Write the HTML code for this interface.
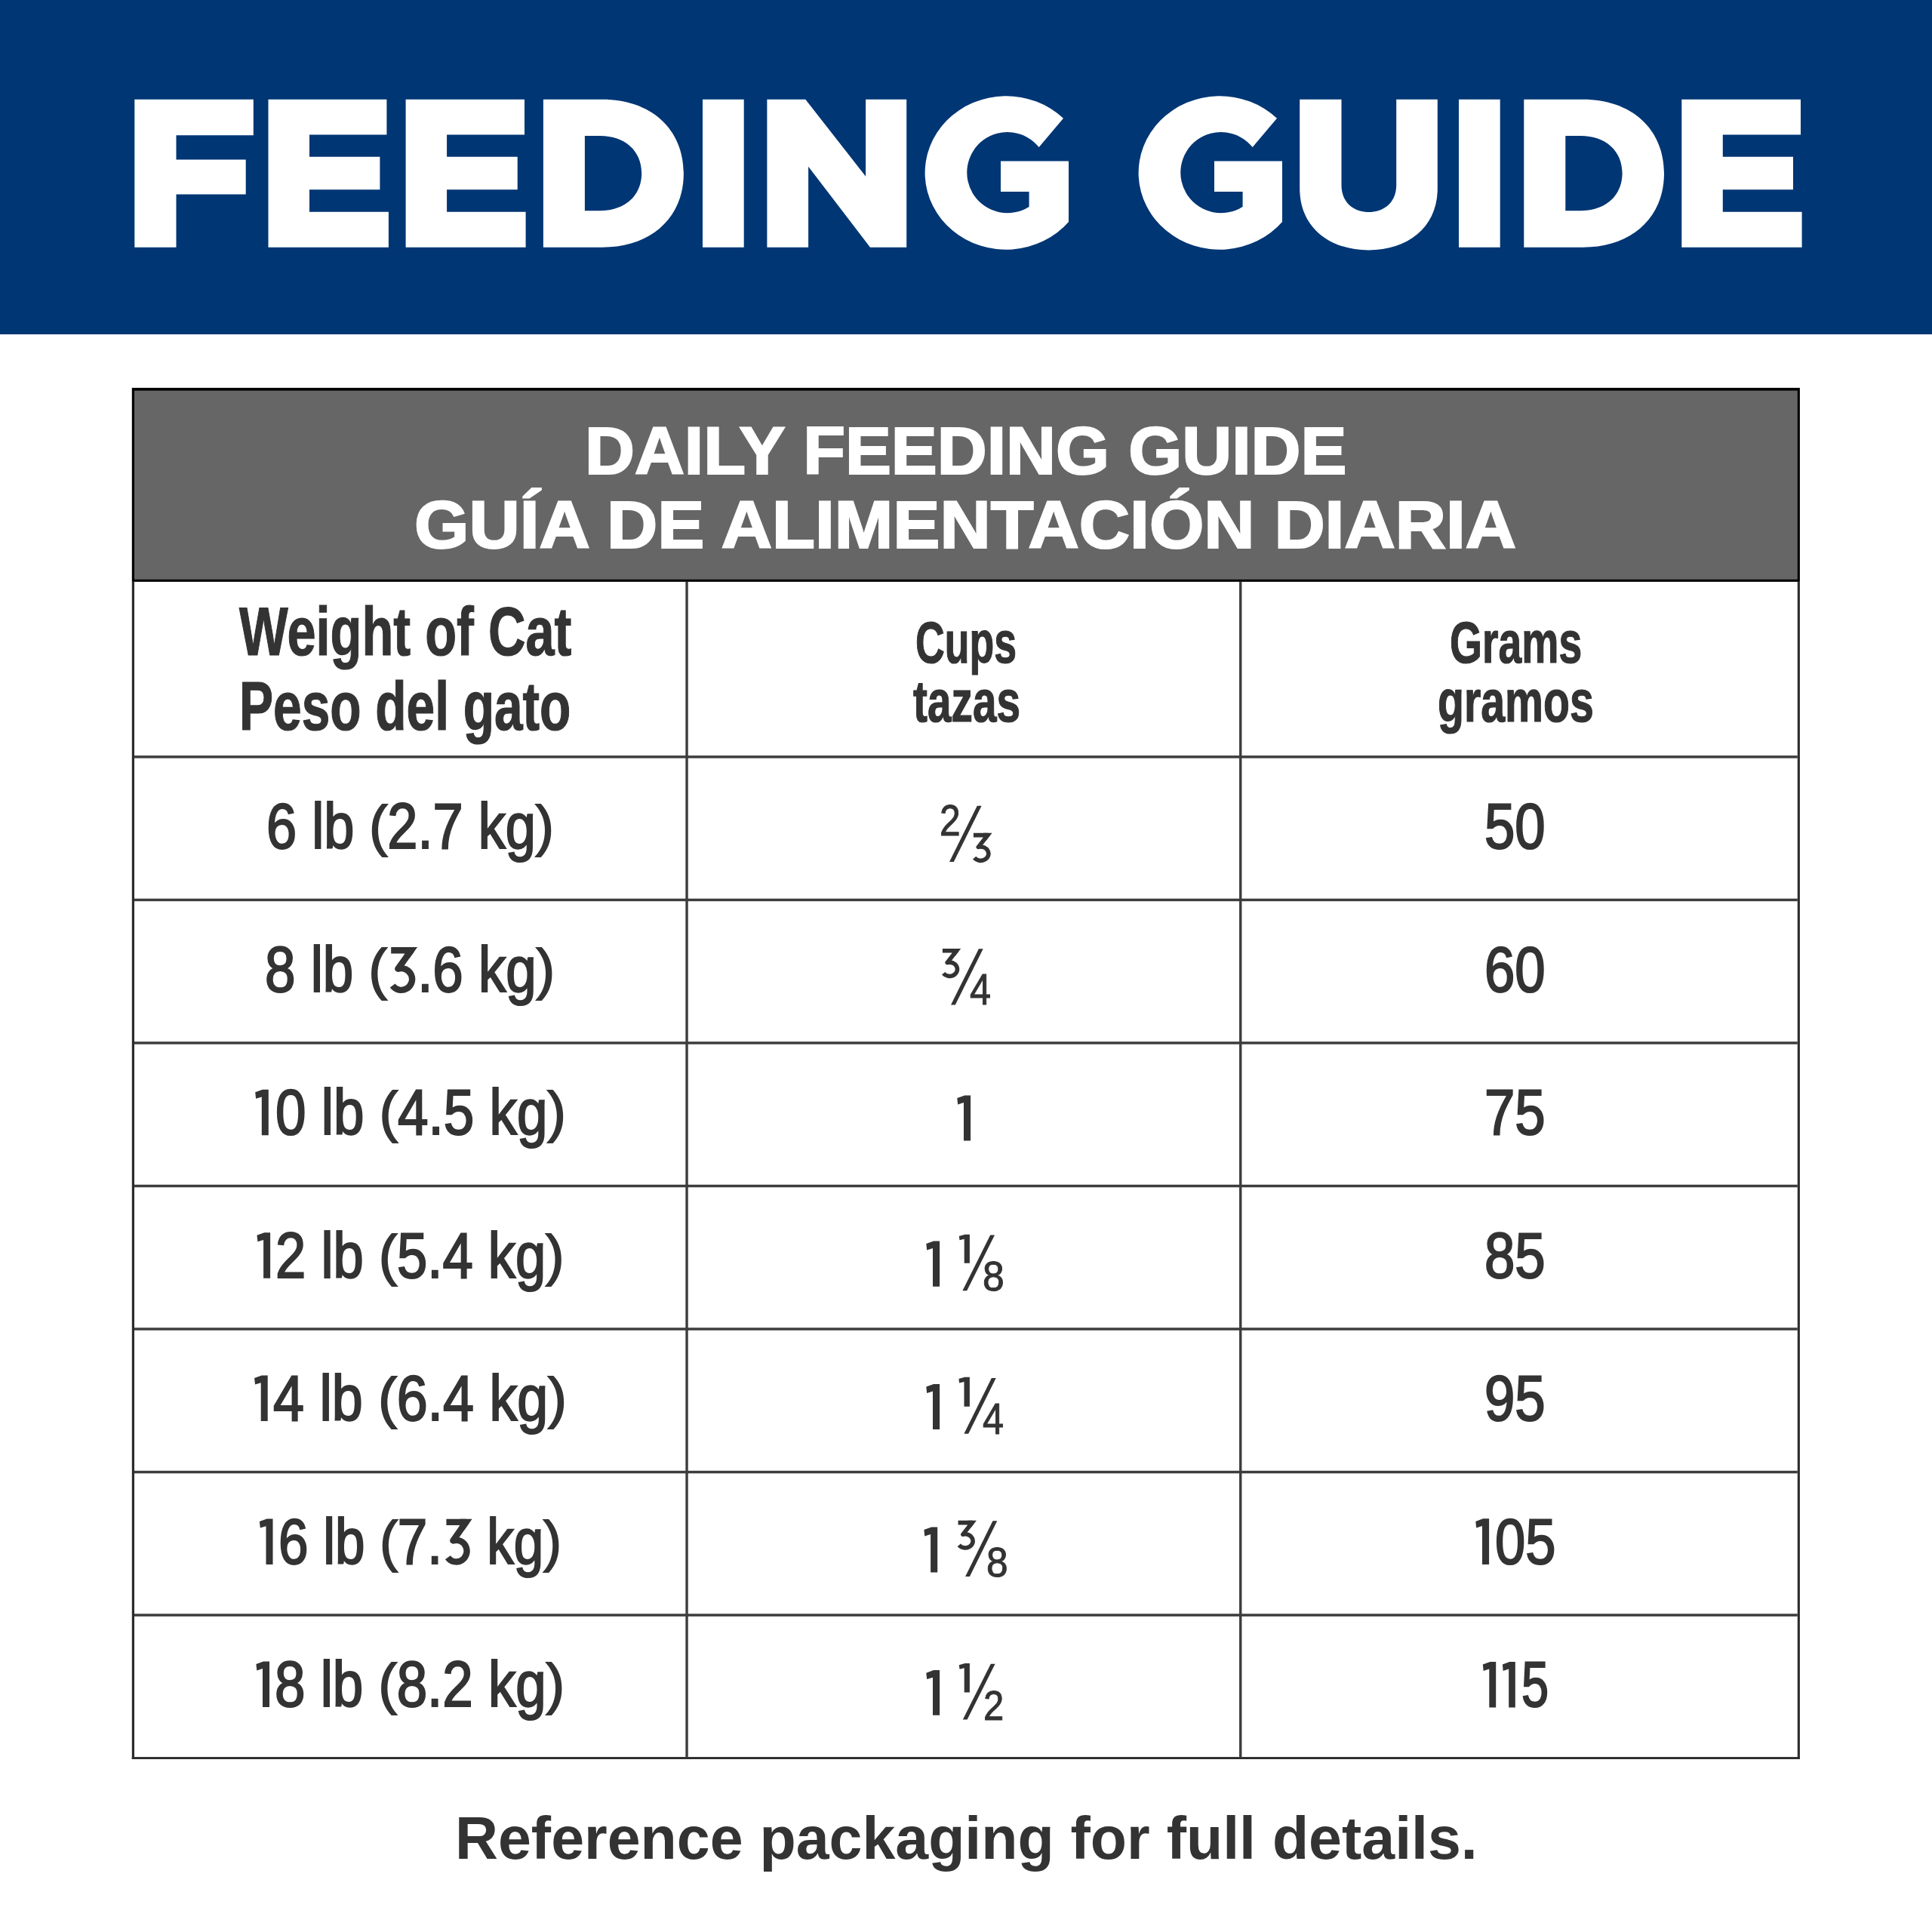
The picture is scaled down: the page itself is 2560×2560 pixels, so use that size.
<!DOCTYPE html>
<html><head><meta charset="utf-8"><title>Feeding Guide</title>
<style>
html,body{margin:0;padding:0;background:#ffffff;}
body{width:2560px;height:2560px;position:relative;overflow:hidden;font-family:'Liberation Sans', sans-serif;}
.p{display:inline-block;transform:scaleY(0.888);transform-origin:50% 0.5em;}
.h3{color:transparent;-webkit-text-stroke-color:transparent;}
</style></head>
<body>
<div style="position:absolute;left:0;top:0;width:2560px;height:443px;background:#003674"></div>
<svg style="position:absolute;left:0;top:0" width="2560" height="443" viewBox="0 0 2560 443"><g fill="#ffffff" fill-rule="evenodd">
<path d="M178.3 131.7 L335.8 131.7 L335.8 179.2 L233.5 179.2 L233.5 211.5 L325.7 211.5 L325.7 257.5 L233.5 257.5 L233.5 327.7 L178.3 327.7 Z"/>
<path d="M355.5 131.7 L512.4 131.7 L512.4 178.4 L410.0 178.4 L410.0 207.7 L503.4 207.7 L503.4 251.2 L410.0 251.2 L410.0 280.8 L514.9 280.8 L514.9 327.7 L355.5 327.7 Z"/>
<path d="M537.6 131.7 L695.0 131.7 L695.0 178.4 L592.1 178.4 L592.1 207.7 L685.7 207.7 L685.7 251.2 L592.1 251.2 L592.1 280.8 L696.6 280.8 L696.6 327.7 L537.6 327.7 Z"/>
<path d="M719.9 131.7 H797.9 C862.7 131.7 905.9 170.9 905.9 229.7 C905.9 288.5 862.7 327.7 797.9 327.7 H719.9 Z M774.9 179.9 H794.9 C828.1 179.9 850.2 199.8 850.2 229.6 C850.2 259.3 828.1 279.2 794.9 279.2 H774.9 Z"/>
<path d="M931.0 131.7 L985.7 131.7 L985.7 327.7 L931.0 327.7 Z"/>
<path d="M1016.4 131.7 L1067.3 131.7 L1147.1 233.8 L1147.1 131.7 L1201.2 131.7 L1201.2 327.7 L1153.0 327.7 L1071.1 220.7 L1071.1 327.7 L1016.4 327.7 Z"/>
<path d="M1409.0 156.8 A107.6 101.75 0 1 0 1416.0 294 L1416.0 213.4 L1326.0 213.4 L1326.0 254 L1363.6 254 L1363.6 273.9 A53.6 53.6 0 1 1 1376.7 195.1 Z"/>
<path d="M1692.0 156.8 A107.6 101.75 0 1 0 1699.0 294 L1699.0 213.4 L1609.0 213.4 L1609.0 254 L1646.6 254 L1646.6 273.9 A53.6 53.6 0 1 1 1659.7 195.1 Z"/>
<path d="M1722.2 131.7 H1777.5 V245 C1777.5 268 1793.2 281 1813.8 281 C1834.2 281 1850.2 268 1850.2 245 V131.7 H1904.8 V250 C1904.8 300 1866.8 331.4 1813.5 331.4 C1760.2 331.4 1722.2 300 1722.2 250 Z"/>
<path d="M1933.0 131.7 L1987.7 131.7 L1987.7 327.7 L1933.0 327.7 Z"/>
<path d="M2019.3 131.7 H2097.3 C2161.9 131.7 2205.0 170.9 2205.0 229.7 C2205.0 288.5 2161.9 327.7 2097.3 327.7 H2019.3 Z M2074.3 179.9 H2094.3 C2127.5 179.9 2149.6 199.8 2149.6 229.6 C2149.6 259.3 2127.5 279.2 2094.3 279.2 H2074.3 Z"/>
<path d="M2228.3 131.7 L2386.0 131.7 L2386.0 178.4 L2282.8 178.4 L2282.8 207.7 L2376.0 207.7 L2376.0 251.2 L2282.8 251.2 L2282.8 280.8 L2387.6 280.8 L2387.6 327.7 L2228.3 327.7 Z"/>
</g></svg>
<svg style="position:absolute;left:0;top:0" width="2560" height="2560" viewBox="0 0 2560 2560"><rect x="174.80" y="513.90" width="2210.10" height="257.00" fill="#000000"/><rect x="178.00" y="517.60" width="2203.80" height="250.20" fill="#666666"/><rect x="174.80" y="770.90" width="3.20" height="1560.10" fill="#2b2b2b"/><rect x="2381.80" y="770.90" width="3.10" height="1560.10" fill="#2b2b2b"/><rect x="174.80" y="2328.10" width="2210.10" height="2.90" fill="#2b2b2b"/><rect x="178.00" y="1001.15" width="2203.80" height="3.50" fill="#3d3d3d"/><rect x="178.00" y="1190.68" width="2203.80" height="3.50" fill="#3d3d3d"/><rect x="178.00" y="1380.21" width="2203.80" height="3.50" fill="#3d3d3d"/><rect x="178.00" y="1569.74" width="2203.80" height="3.50" fill="#3d3d3d"/><rect x="178.00" y="1759.27" width="2203.80" height="3.50" fill="#3d3d3d"/><rect x="178.00" y="1948.80" width="2203.80" height="3.50" fill="#3d3d3d"/><rect x="178.00" y="2138.33" width="2203.80" height="3.50" fill="#3d3d3d"/><rect x="908.35" y="770.90" width="3.40" height="1557.20" fill="#3d3d3d"/><rect x="1642.05" y="770.90" width="3.40" height="1557.20" fill="#3d3d3d"/></svg>
<div style="position:absolute;left:774.53px;top:544.90px;font-family:'Liberation Sans', sans-serif;font-weight:700;font-size:88.37209302325581px;line-height:1.2;white-space:nowrap;color:#ffffff;-webkit-text-stroke:2.2px #ffffff;transform-origin:0 0;transform:scaleX(1.0331);">DAILY FEEDING GUIDE</div>
<div style="position:absolute;left:549.14px;top:643.40px;font-family:'Liberation Sans', sans-serif;font-weight:700;font-size:88.37209302325581px;line-height:1.2;white-space:nowrap;color:#ffffff;-webkit-text-stroke:2.2px #ffffff;transform-origin:0 0;transform:scaleX(1.0535);">GUÍA DE ALIMENTACIÓN DIARIA</div>
<div style="position:absolute;left:316.86px;top:782.60px;font-family:'Liberation Sans', sans-serif;font-weight:700;font-size:90.40697674418605px;line-height:1.2;white-space:nowrap;color:#333333;-webkit-text-stroke:1.2px #333333;transform-origin:0 0;transform:scaleX(0.7582);">Weight of Cat</div>
<div style="position:absolute;left:317.36px;top:882.00px;font-family:'Liberation Sans', sans-serif;font-weight:700;font-size:90.40697674418605px;line-height:1.2;white-space:nowrap;color:#333333;-webkit-text-stroke:1.2px #333333;transform-origin:0 0;transform:scaleX(0.7476);">Peso del gato</div>
<div style="position:absolute;left:1213.12px;top:805.10px;font-family:'Liberation Sans', sans-serif;font-weight:700;font-size:77.32558139534883px;line-height:1.2;white-space:nowrap;color:#333333;-webkit-text-stroke:1.2px #333333;transform-origin:0 0;transform:scaleX(0.6936);">Cups</div>
<div style="position:absolute;left:1209.50px;top:882.70px;font-family:'Liberation Sans', sans-serif;font-weight:700;font-size:77.32558139534883px;line-height:1.2;white-space:nowrap;color:#333333;-webkit-text-stroke:1.2px #333333;transform-origin:0 0;transform:scaleX(0.7346);">tazas</div>
<div style="position:absolute;left:1920.75px;top:804.90px;font-family:'Liberation Sans', sans-serif;font-weight:700;font-size:77.18023255813954px;line-height:1.2;white-space:nowrap;color:#333333;-webkit-text-stroke:1.2px #333333;transform-origin:0 0;transform:scaleX(0.7172);">Grams</div>
<div style="position:absolute;left:1905.17px;top:882.70px;font-family:'Liberation Sans', sans-serif;font-weight:700;font-size:77.18023255813954px;line-height:1.2;white-space:nowrap;color:#333333;-webkit-text-stroke:1.2px #333333;transform-origin:0 0;transform:scaleX(0.7418);">gramos</div>
<div style="position:absolute;left:353.04px;top:1045.10px;font-family:'Liberation Sans', sans-serif;font-weight:400;font-size:84.45px;line-height:1.2;white-space:nowrap;color:#333333;-webkit-text-stroke:2.2px #333333;transform-origin:0 0;transform:scaleX(0.8542);">6 lb <span class="p">(</span>2.7 kg<span class="p">)</span></div>
<div style="position:absolute;left:351.32px;top:1235.30px;font-family:'Liberation Sans', sans-serif;font-weight:400;font-size:84.45px;line-height:1.2;white-space:nowrap;color:#333333;-webkit-text-stroke:2.2px #333333;transform-origin:0 0;transform:scaleX(0.8613);">8 lb <span class="p">(</span><span class="h3">3</span>.6 kg<span class="p">)</span></div>
<div style="position:absolute;left:364.97px;top:1424.20px;font-family:'Liberation Sans', sans-serif;font-weight:400;font-size:84.45px;line-height:1.2;white-space:nowrap;color:#333333;-webkit-text-stroke:2.2px #333333;transform-origin:0 0;transform:scaleX(0.8627);">0 lb <span class="p">(</span>4.5 kg<span class="p">)</span></div>
<div style="position:absolute;left:364.53px;top:1613.70px;font-family:'Liberation Sans', sans-serif;font-weight:400;font-size:84.45px;line-height:1.2;white-space:nowrap;color:#333333;-webkit-text-stroke:2.2px #333333;transform-origin:0 0;transform:scaleX(0.8576);">2 lb <span class="p">(</span>5.4 kg<span class="p">)</span></div>
<div style="position:absolute;left:362.43px;top:1803.00px;font-family:'Liberation Sans', sans-serif;font-weight:400;font-size:84.45px;line-height:1.2;white-space:nowrap;color:#333333;-webkit-text-stroke:2.2px #333333;transform-origin:0 0;transform:scaleX(0.8717);">4 lb <span class="p">(</span>6.4 kg<span class="p">)</span></div>
<div style="position:absolute;left:369.38px;top:1993.00px;font-family:'Liberation Sans', sans-serif;font-weight:400;font-size:84.45px;line-height:1.2;white-space:nowrap;color:#333333;-webkit-text-stroke:2.2px #333333;transform-origin:0 0;transform:scaleX(0.8405);">6 lb <span class="p">(</span>7.<span class="h3">3</span> kg<span class="p">)</span></div>
<div style="position:absolute;left:364.12px;top:2181.90px;font-family:'Liberation Sans', sans-serif;font-weight:400;font-size:84.45px;line-height:1.2;white-space:nowrap;color:#333333;-webkit-text-stroke:2.2px #333333;transform-origin:0 0;transform:scaleX(0.8610);">8 lb <span class="p">(</span>8.2 kg<span class="p">)</span></div>
<div style="position:absolute;left:1966.93px;top:1045.20px;font-family:'Liberation Sans', sans-serif;font-weight:400;font-size:84.45px;line-height:1.2;white-space:nowrap;color:#333333;-webkit-text-stroke:2.2px #333333;transform-origin:0 0;transform:scaleX(0.8589);">50</div>
<div style="position:absolute;left:1966.50px;top:1234.73px;font-family:'Liberation Sans', sans-serif;font-weight:400;font-size:84.45px;line-height:1.2;white-space:nowrap;color:#333333;-webkit-text-stroke:2.2px #333333;transform-origin:0 0;transform:scaleX(0.8589);">60</div>
<div style="position:absolute;left:1966.93px;top:1424.26px;font-family:'Liberation Sans', sans-serif;font-weight:400;font-size:84.45px;line-height:1.2;white-space:nowrap;color:#333333;-webkit-text-stroke:2.2px #333333;transform-origin:0 0;transform:scaleX(0.8589);">75</div>
<div style="position:absolute;left:1966.93px;top:1613.79px;font-family:'Liberation Sans', sans-serif;font-weight:400;font-size:84.45px;line-height:1.2;white-space:nowrap;color:#333333;-webkit-text-stroke:2.2px #333333;transform-origin:0 0;transform:scaleX(0.8589);">85</div>
<div style="position:absolute;left:1966.93px;top:1803.32px;font-family:'Liberation Sans', sans-serif;font-weight:400;font-size:84.45px;line-height:1.2;white-space:nowrap;color:#333333;-webkit-text-stroke:2.2px #333333;transform-origin:0 0;transform:scaleX(0.8589);">95</div>
<div style="position:absolute;left:1981.29px;top:1992.85px;font-family:'Liberation Sans', sans-serif;font-weight:400;font-size:84.45px;line-height:1.2;white-space:nowrap;color:#333333;-webkit-text-stroke:2.2px #333333;transform-origin:0 0;transform:scaleX(0.8562);">05</div>
<div style="position:absolute;left:2016.26px;top:2182.38px;font-family:'Liberation Sans', sans-serif;font-weight:400;font-size:84.45px;line-height:1.2;white-space:nowrap;color:#333333;-webkit-text-stroke:2.2px #333333;transform-origin:0 0;transform:scaleX(0.7690);">5</div>
<div style="position:absolute;left:603.31px;top:2388.70px;font-family:'Liberation Sans', sans-serif;font-weight:700;font-size:79.06976744186046px;line-height:1.2;white-space:nowrap;color:#333333;transform-origin:0 0;transform:scaleX(0.9981);">Reference packaging for full details.</div>
<div style="position:absolute;left:1245.02px;top:1052.76px;font-family:'Liberation Sans', sans-serif;font-weight:400;font-size:56px;line-height:1.2;white-space:nowrap;color:#333333;-webkit-text-stroke:1.0px #333333;transform-origin:0 0;transform:scale(0.8889,1.0103);">2</div>
<div style="position:absolute;left:1285.20px;top:1277.14px;font-family:'Liberation Sans', sans-serif;font-weight:400;font-size:56px;line-height:1.2;white-space:nowrap;color:#333333;-webkit-text-stroke:1.0px #333333;transform-origin:0 0;transform:scale(0.9000,1.0237);">4</div>
<div style="position:absolute;left:1302.46px;top:1657.40px;font-family:'Liberation Sans', sans-serif;font-weight:400;font-size:56px;line-height:1.2;white-space:nowrap;color:#333333;-webkit-text-stroke:1.0px #333333;transform-origin:0 0;transform:scale(0.9222,0.9925);">8</div>
<div style="position:absolute;left:1302.20px;top:1846.10px;font-family:'Liberation Sans', sans-serif;font-weight:400;font-size:56px;line-height:1.2;white-space:nowrap;color:#333333;-webkit-text-stroke:1.0px #333333;transform-origin:0 0;transform:scale(0.9000,1.0132);">4</div>
<div style="position:absolute;left:1306.66px;top:2036.07px;font-family:'Liberation Sans', sans-serif;font-weight:400;font-size:56px;line-height:1.2;white-space:nowrap;color:#333333;-webkit-text-stroke:1.0px #333333;transform-origin:0 0;transform:scale(0.9185,0.9950);">8</div>
<div style="position:absolute;left:1303.45px;top:2225.60px;font-family:'Liberation Sans', sans-serif;font-weight:400;font-size:56px;line-height:1.2;white-space:nowrap;color:#333333;-webkit-text-stroke:1.0px #333333;transform-origin:0 0;transform:scale(0.8741,1.0000);">2</div>
<svg style="position:absolute;left:0;top:0" width="2560" height="2560" viewBox="0 0 2560 2560"><g fill="#333333">
<path d="M355.8 1443.7 L355.8 1504.3 L346.8 1504.3 L346.8 1453.4 L339.1 1455.8 L338.2 1447.3 L347.9 1443.7 Z"/>
<path d="M358.1 1633.2 L358.1 1693.8 L349.1 1693.8 L349.1 1642.9 L341.4 1645.3 L340.5 1636.8 L350.2 1633.2 Z"/>
<path d="M354.7 1822.5 L354.7 1883.1 L345.7 1883.1 L345.7 1832.2 L338.0 1834.6 L337.1 1826.1 L346.8 1822.5 Z"/>
<path d="M361.5 2012.5 L361.5 2073.1 L352.5 2073.1 L352.5 2022.2 L344.8 2024.6 L343.9 2016.1 L353.6 2012.5 Z"/>
<path d="M357.0 2201.4 L357.0 2262.0 L348.0 2262.0 L348.0 2211.1 L340.3 2213.5 L339.4 2205.0 L349.1 2201.4 Z"/>
<path d="M1973.1 2012.3 L1973.1 2072.9 L1964.0 2072.9 L1964.0 2022.0 L1956.2 2024.5 L1955.3 2016.0 L1965.1 2012.3 Z"/>
<path d="M1982.2 2201.9 L1982.2 2262.5 L1973.3 2262.5 L1973.3 2211.6 L1965.7 2214.0 L1964.8 2205.5 L1974.4 2201.9 Z"/>
<path d="M2007.8 2201.9 L2007.8 2262.5 L1999.2 2262.5 L1999.2 2211.6 L1991.7 2214.0 L1990.9 2205.5 L2000.2 2201.9 Z"/>
<path d="M1286.1 1451.5 L1286.1 1511.5 L1277.0 1511.5 L1277.0 1461.1 L1269.2 1463.5 L1268.3 1455.1 L1278.1 1451.5 Z"/>
<path d="M1245.1 1644.4 L1245.1 1704.8 L1236.0 1704.8 L1236.0 1654.1 L1228.2 1656.5 L1227.3 1648.0 L1237.1 1644.4 Z"/>
<path d="M1284.9 1635.7 L1284.9 1673.8 L1277.7 1673.8 L1277.7 1641.8 L1271.5 1643.3 L1270.8 1638.0 L1278.6 1635.7 Z"/>
<path d="M1245.1 1834.0 L1245.1 1894.0 L1236.0 1894.0 L1236.0 1843.6 L1228.2 1846.0 L1227.3 1837.6 L1237.1 1834.0 Z"/>
<path d="M1284.9 1824.8 L1284.9 1863.8 L1277.5 1863.8 L1277.5 1831.0 L1271.1 1832.6 L1270.4 1827.1 L1278.4 1824.8 Z"/>
<path d="M1242.2 2023.5 L1242.2 2083.6 L1233.1 2083.6 L1233.1 2033.1 L1225.3 2035.5 L1224.4 2027.1 L1234.2 2023.5 Z"/>
<path d="M1245.1 2213.1 L1245.1 2272.8 L1236.0 2272.8 L1236.0 2222.7 L1228.2 2225.0 L1227.3 2216.7 L1237.1 2213.1 Z"/>
<path d="M1284.9 2204.0 L1284.9 2242.5 L1277.7 2242.5 L1277.7 2210.2 L1271.5 2211.7 L1270.8 2206.3 L1278.6 2204.0 Z"/>
<path d="M1294.8 1067.7 L1300.6 1067.7 L1263.8 1141.9 L1258.0 1141.9 Z"/>
<path d="M1296.9 1257.3 L1302.7 1257.3 L1265.8 1331.4 L1260.0 1331.4 Z"/>
<path d="M1312.2 1636.5 L1318.0 1636.5 L1281.2 1710.2 L1275.4 1710.2 Z"/>
<path d="M1313.9 1826.1 L1319.7 1826.1 L1283.2 1899.8 L1277.4 1899.8 Z"/>
<path d="M1315.5 2015.3 L1321.3 2015.3 L1284.9 2089.0 L1279.1 2089.0 Z"/>
<path d="M1312.8 2204.8 L1318.6 2204.8 L1281.6 2278.6 L1275.8 2278.6 Z"/>
</g></svg>
<svg style="position:absolute;left:0;top:0" width="2560" height="2560" viewBox="0 0 2560 2560">
<path d="M1289.91 1106.60 H1308.82 L1296.31 1122.39 A10.38 9.19 0 1 1 1291.12 1136.63" fill="none" stroke="#333333" stroke-width="5.60" stroke-linejoin="round"/><path d="M1303.22 1106.60 H1308.82 L1304.64 1111.87" fill="none" stroke="#333333" stroke-width="5.60" stroke-linejoin="miter" stroke-miterlimit="10"/>
<path d="M1248.88 1259.70 H1267.48 L1255.19 1275.53 A10.16 9.22 0 1 1 1250.11 1289.81" fill="none" stroke="#333333" stroke-width="5.60" stroke-linejoin="round"/><path d="M1261.88 1259.70 H1267.48 L1263.36 1265.01" fill="none" stroke="#333333" stroke-width="5.60" stroke-linejoin="miter" stroke-miterlimit="10"/>
<path d="M1269.58 2017.60 H1288.18 L1275.89 2033.26 A10.16 9.09 0 1 1 1270.81 2047.36" fill="none" stroke="#333333" stroke-width="5.60" stroke-linejoin="round"/><path d="M1282.58 2017.60 H1288.18 L1284.03 2022.89" fill="none" stroke="#333333" stroke-width="5.60" stroke-linejoin="miter" stroke-miterlimit="10"/>
<path d="M518.19 1259.20 H544.92 L527.32 1283.71 A14.42 14.40 0 1 1 520.10 1306.04" fill="none" stroke="#333333" stroke-width="8.40" stroke-linejoin="round"/><path d="M536.52 1259.20 H544.92 L539.04 1267.39" fill="none" stroke="#333333" stroke-width="8.40" stroke-linejoin="miter" stroke-miterlimit="10"/>
<path d="M591.41 2016.90 H617.50 L600.35 2041.41 A13.97 14.41 0 1 1 593.36 2063.74" fill="none" stroke="#333333" stroke-width="8.40" stroke-linejoin="round"/><path d="M609.10 2016.90 H617.50 L611.72 2025.16" fill="none" stroke="#333333" stroke-width="8.40" stroke-linejoin="miter" stroke-miterlimit="10"/>
</svg>
</body></html>
